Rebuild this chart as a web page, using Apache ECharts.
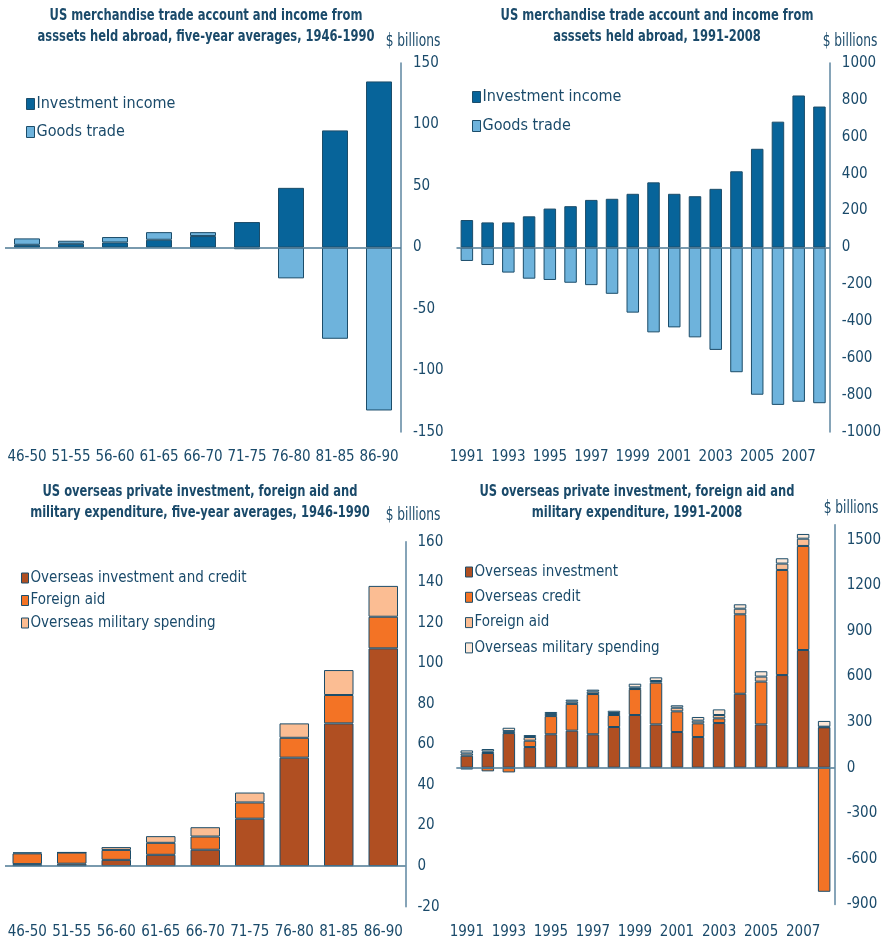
<!DOCTYPE html>
<html>
<head>
<meta charset="utf-8">
<script src="https://cdn.jsdelivr.net/npm/echarts@6/dist/echarts.min.js"></script>
<style>
  html, body { margin: 0; padding: 0; background: #fff; }
  #main { width: 884px; height: 943px; }
</style>
</head>
<body>
<div id="main"></div>
<script>
// five-year average categories and yearly categories
var periods = ['46-50', '51-55', '56-60', '61-65', '66-70', '71-75', '76-80', '81-85', '86-90'];
var years = ['1991', '1992', '1993', '1994', '1995', '1996', '1997', '1998', '1999',
  '2000', '2001', '2002', '2003', '2004', '2005', '2006', '2007', '2008'];

// top left: trade account and income, five-year averages
var incomeAvg = [2.2, 3.0, 4.1, 6.3, 9.3, 20.7, 48.5, 95.2, 135];
var goodsAvg = [5.2, 2.5, 4.4, 6.2, 3.2, -1.4, -25.1, -74.2, -132.5];

// top right: trade account and income, yearly
var incomeYear = [149, 136, 136, 169, 211, 224, 258, 264, 291, 353, 291, 278, 318, 413, 535, 682, 824, 764];
var goodsYear = [-73, -95, -136, -169, -176, -191, -204, -251, -353, -460, -433, -487, -555, -676, -798, -853, -836, -844];

// bottom left: investment, aid, military, five-year averages
var investCreditAvg = [1.0, 1.2, 3.1, 5.6, 8.1, 23.4, 53.5, 70.4, 107.4];
var aidAvg = [5.3, 5.5, 4.9, 5.9, 6.5, 8.0, 9.8, 14.0, 15.6];
var militaryAvg = [0.5, 0.1, 1.4, 3.3, 4.6, 4.9, 7.1, 12.3, 15.2];

// bottom right: investment, credit, aid, military, yearly
var investYear = [79, 97, 228, 136, 220, 244, 220, 268, 347, 285, 235, 202, 294, 487, 285, 610, 775, 266];
var creditYear = [-12, -24, -31, 42, 120, 176, 265, 79, 171, 275, 136, 90, 31, 523, 282, 692, 685, -817];
var aidYear = [15, 10, 13, 24, 14, 15, 16, 13, 11, 11, 24, 18, 22, 37, 33, 42, 48, 4];
var militaryYear = [20, 16, 22, 13, 13, 13, 13, 15, 24, 24, 16, 24, 37, 29, 35, 35, 31, 38];

var font = "'Liberation Sans Narrow', 'Arial Narrow', 'DejaVu Sans Condensed', sans-serif";
var textColor = '#1a4a6a';
var edge = '#1c4d6a';
var c = {
  darkBlue: '#07649a',
  lightBlue: '#6eb3dc',
  brown: '#b04f22',
  orange: '#f37325',
  peach: '#fbbd93',
  cream: '#fde8d8'
};

var myChart = echarts.init(document.getElementById('main'));

// titles are squeezed sideways to look like the narrow font of the original
function label (text, x, y, size, bold) {
  return {
    type: 'text',
    x: x,
    y: y,
    scaleX: 0.8,
    silent: true,
    style: {
      text: text,
      fontFamily: font,
      fontSize: size,
      fontWeight: bold ? 'bold' : 'normal',
      lineHeight: 21,
      fill: textColor,
      align: 'center',
      verticalAlign: 'middle'
    }
  };
}
function xAxis (idx, data, margin, interval) {
  return {
    type: 'category',
    gridIndex: idx,
    data: data,
    axisLine: { show: false, onZero: false },
    axisTick: { show: false },
    axisLabel: { interval: interval, margin: margin, fontFamily: font, fontSize: 15, color: textColor }
  };
}
function yAxis (idx, min, max, interval, showMax) {
  return {
    type: 'value',
    gridIndex: idx,
    position: 'right',
    min: min,
    max: max,
    interval: interval,
    axisLine: { show: true, onZero: false, lineStyle: { color: '#5e86a0', width: 1.5 } },
    axisTick: { show: false },
    splitLine: { show: false },
    axisLabel: {
      margin: 12,
      showMaxLabel: showMax,
      fontFamily: font,
      fontSize: 15,
      color: textColor,
      formatter: function (v) { return String(v) }
    }
  };
}
function bars (name, idx, stack, data, color, width, zero) {
  var s = {
    name: name,
    type: 'bar',
    xAxisIndex: idx,
    yAxisIndex: idx,
    stack: stack,
    data: data,
    barWidth: width,
    itemStyle: { color: color, borderColor: edge, borderWidth: 1 }
  };
  if (zero) {
    s.markLine = {
      silent: true,
      symbol: 'none',
      label: { show: false },
      lineStyle: { color: '#4d7893', width: 1.6, type: 'solid' },
      data: [{ yAxis: 0 }]
    };
  }
  return s;
}
function legend (items, x, y, size, gap, iw, ih) {
  return {
    orient: 'vertical',
    left: x,
    top: y,
    padding: 0,
    itemGap: gap,
    itemWidth: iw,
    itemHeight: ih,
    selectedMode: false,
    icon: 'rect',
    data: items.map(function (it) {
      return { name: it[0], itemStyle: { color: it[1], borderColor: edge, borderWidth: 1 } };
    }),
    textStyle: { fontFamily: font, fontSize: size, lineHeight: size, color: textColor, padding: [0, 0, 0, -3] }
  };
}

var option = {
  animation: false,
  graphic: [
    label('US merchandise trade account and income from\nasssets held abroad, five-year averages, 1946-1990', 206, 26.5, 16, true),
    label('US merchandise trade account and income from\nasssets held abroad, 1991-2008', 657, 26.5, 16, true),
    label('US overseas private investment, foreign aid and\nmilitary expenditure, five-year averages, 1946-1990', 200, 502.5, 16, true),
    label('US overseas private investment, foreign aid and\nmilitary expenditure, 1991-2008', 637, 502.5, 16, true),
    label('$ billions', 413, 42, 17, false),
    label('$ billions', 850, 42, 17, false),
    label('$ billions', 413, 516, 17, false),
    label('$ billions', 851, 509, 17, false)
  ],
  grid: [
    { left: 5, top: 63, width: 396, height: 369 },
    { left: 456.5, top: 63, width: 379, height: 369 },
    { left: 5, top: 541.7, width: 400.5, height: 365 },
    { left: 456.3, top: 524.7, width: 384, height: 379.7 }
  ],
  legend: [
    legend([['Investment income', c.darkBlue], ['Goods trade', c.lightBlue]], 26, 96, 16, 12, 8, 11),
    legend([['Investment income', c.darkBlue], ['Goods trade', c.lightBlue]], 472, 89, 16, 13, 8, 11),
    legend([['Overseas investment and credit', c.brown], ['Foreign aid', c.orange],
      ['Overseas military spending', c.peach]], 21, 570.5, 15, 7.5, 7, 10),
    legend([['Overseas investment', c.brown], ['Overseas credit', c.orange],
      ['Foreign aid ', c.peach], ['Overseas military spending ', c.cream]], 465, 564.5, 15, 10.3, 7, 10)
  ],
  xAxis: [
    xAxis(0, periods, 18, 0),
    xAxis(1, years, 18, 1),
    xAxis(2, periods, 18, 0),
    xAxis(3, years, 20, 1)
  ],
  yAxis: [
    yAxis(0, -150, 150, 50, true),
    yAxis(1, -1000, 1000, 200, true),
    yAxis(2, -20, 160, 20, true),
    yAxis(3, -900, 1600, 300, false)
  ],
  series: [
    bars('Investment income', 0, 'a', incomeAvg, c.darkBlue, 26, false),
    bars('Goods trade', 0, 'a', goodsAvg, c.lightBlue, 26, true),
    bars('Investment income', 1, 'b', incomeYear, c.darkBlue, 12.5, false),
    bars('Goods trade', 1, 'b', goodsYear, c.lightBlue, 12.5, true),
    bars('Overseas investment and credit', 2, 'c', investCreditAvg, c.brown, 29.5, false),
    bars('Foreign aid', 2, 'c', aidAvg, c.orange, 29.5, false),
    bars('Overseas military spending', 2, 'c', militaryAvg, c.peach, 29.5, true),
    bars('Overseas investment', 3, 'd', investYear, c.brown, 12.5, false),
    bars('Overseas credit', 3, 'd', creditYear, c.orange, 12.5, false),
    bars('Foreign aid ', 3, 'd', aidYear, c.peach, 12.5, false),
    bars('Overseas military spending ', 3, 'd', militaryYear, c.cream, 12.5, true)
  ]
};
myChart.setOption(option);
</script>
</body>
</html>
